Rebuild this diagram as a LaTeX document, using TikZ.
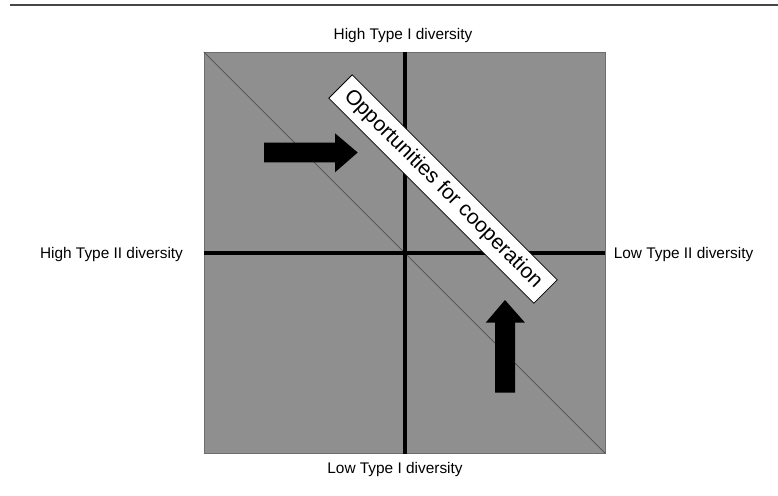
\documentclass[tikz,border=0pt]{standalone}
\usepackage{fontspec}
\setmainfont{Liberation Sans}
\begin{document}
\begin{tikzpicture}[x=1pt,y=-1pt,
  panelgray/.style={fill={rgb,255:red,143;green,143;blue,143}},
  quadrant/.style={panelgray, draw={rgb,255:red,110;green,110;blue,110}, line width=0.6pt,
    minimum width=401pt, minimum height=401pt, inner sep=0pt},
  axisline/.style={line width=4pt, black},
  diagline/.style={line width=0.8pt, draw={rgb,255:red,80;green,80;blue,80}},
  axislabel/.style={font=\fontsize{15.4}{18}\selectfont, anchor=base, inner sep=0pt},
  banner/.style={draw=black, line width=0.8pt, fill=white, rotate=-45,
    minimum width=290pt, minimum height=33pt, inner sep=0pt,
    font=\fontsize{21}{25}\selectfont},
  bigarrow/.style={fill=black},
  toprule/.style={line width=1.4pt, draw={rgb,255:red,70;green,70;blue,70}}
]
\useasboundingbox (0,0) rectangle (778,495);

% rule across the top
\coordinate (ruleL) at (10,5);
\coordinate (ruleR) at (778,5);
\draw[toprule] (ruleL) -- (ruleR);

% grey field with its diagonal and the two axes
\node[quadrant] (sq) at (404.6,252.7) {};
\draw[diagline] (sq.north west) -- (sq.south east);
\draw[axisline] (sq.north) -- (sq.south);
\draw[axisline] (sq.west) -- (sq.east);

% axis labels
\node[axislabel] (hi1) at (403,39.5) {High Type I diversity};
\node[axislabel] (lo1) at (395,473) {Low Type I diversity};
\node[axislabel] (hi2) at (111.5,258.5) {High Type II diversity};
\node[axislabel] (lo2) at (683.5,258.5) {Low Type II diversity};

% block arrows
\fill[bigarrow] (264,142.7) -- (335,142.7) -- (335,133.3) -- (357.7,152.5)
  -- (335,172.3) -- (335,162.3) -- (264,162.3) -- cycle;
\fill[bigarrow] (495,392.7) -- (495,322.7) -- (485.7,322.7) -- (505,300)
  -- (525,322.7) -- (515,322.7) -- (515,392.7) -- cycle;

% slanted banner
\node[banner] (opp) at (443,189) {Opportunities for cooperation};
\end{tikzpicture}
\end{document}
